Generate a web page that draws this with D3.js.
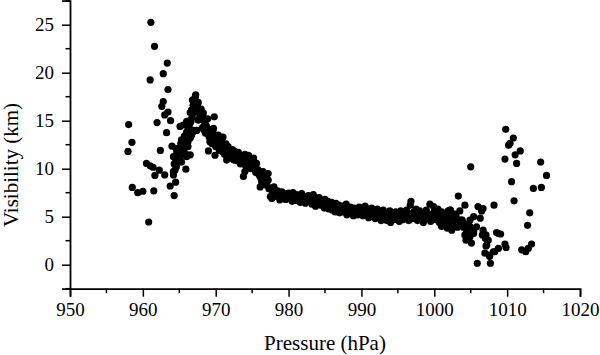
<!DOCTYPE html>
<html><head><meta charset="utf-8">
<script src="https://cdn.jsdelivr.net/npm/d3@7"></script>
<style>body{margin:0;background:#fff}svg{display:block}text{font-family:"Liberation Serif","Times New Roman",serif;fill:#000}</style>
</head><body><svg id="c" width="600" height="355"></svg>
<script>
// Early scatter (958-967 hPa)
const earlyP = [958.05,958.5,957.96,958.55,959.3,960.0,961.5,960.8,961.1,961.6,963.35,962.8,961.0,963.45,962.8,962.6,963.45,963.0,963.8,961.95,963.25,962.4,960.5,961.0,961.4,962.25,961.65,963.0,964.2,964.5,963.75,964.3,964.0,964.6,965.3,965.1,965.8,964.85,965.3,964.6,964.4,966.0,966.5,965.9,964.2,965.55,966.15,966.9,966.7,966.2,965.8,966.5,966.7,966.8,967.2,967.25,967.5,967.75,968.05,968.3,968.5,968.75,969.0,969.8,
  964.3,964.5,964.7,964.9,965.0,965.1,965.2,965.4,965.5,965.6,965.7,965.9,966.0,966.1,966.2,966.3,966.4,966.5,966.6,966.7,966.8,966.9,967.0,967.1,967.2,967.3,967.4,967.4,967.6,967.6,967.8,965.1,966.0,966.7,966.9,967.2,967.4,965.3,965.8,966.2,966.5,966.9,964.2,964.65,967.4,967.6];
const earlyV = [14.6,12.75,11.8,8.05,7.5,7.65,7.7,4.45,25.25,22.75,21.0,19.9,19.25,18.25,17.0,16.5,15.9,15.6,15.0,14.8,13.75,11.9,10.55,10.3,10.15,9.85,9.3,9.35,9.35,8.6,8.2,7.2,12.35,12.1,12.3,11.75,11.6,11.1,10.7,10.2,9.85,11.25,11.45,9.95,9.7,14.55,14.95,14.0,13.5,12.8,13.0,15.85,15.25,17.15,17.5,17.7,16.7,16.2,15.75,15.25,14.75,14.2,11.85,15.4,
  10.5,11.0,10.6,11.5,12.0,11.2,12.6,11.9,12.9,12.2,13.4,12.4,13.8,13.1,14.3,13.6,14.6,13.2,14.9,16.1,15.6,16.6,16.0,17.2,16.4,17.0,16.0,14.0,15.1,16.9,15.6,14.4,14.9,16.1,17.15,16.8,16.3,13.0,12.65,12.3,13.3,13.85,11.25,11.77,14.0,15.07];

// Main band (968-1004 hPa)
const bandP = [968.0,968.1,968.2,968.3,968.4,968.5,968.6,968.7,968.8,968.9,969.0,969.1,969.2,969.3,969.4,969.5,969.6,969.7,969.7,969.9,970.0,970.1,970.2,970.35,970.4,970.5,970.6,970.7,970.8,970.9,971.0,971.1,971.2,971.3,971.4,971.5,971.6,971.7,971.8,972.0,972.1,972.2,972.3,972.4,972.5,972.6,972.8,972.9,973.0,973.1,973.3,973.4,973.5,973.7,973.8,973.8,974.0,974.0,974.1,974.25,974.4,974.5,974.5,974.7,974.8,974.9,975.0,975.2,975.2,975.3,975.5,975.6,975.7,975.85,976.0,976.1,976.2,976.3,976.5,976.6,976.8,976.9,977.0,977.2,977.2,977.3,977.45,977.5,977.7,977.8,977.9,978.0,978.2,978.4,978.5,978.7,978.8,979.0,979.1,979.3,979.5,979.6,979.8,
  980.0,980.1,980.3,980.5,980.6,980.8,981.0,981.1,981.3,981.5,981.6,981.8,982.0,982.2,982.3,982.5,982.7,982.9,983.0,983.2,983.4,983.5,983.7,983.9,984.0,984.2,984.4,984.5,984.7,984.9,985.0,985.2,985.4,985.5,985.7,985.9,986.0,986.2,986.4,986.5,986.7,986.9,987.0,987.2,987.4,987.5,987.7,987.9,988.0,988.2,988.4,988.5,988.7,988.9,989.0,989.2,989.4,989.5,989.7,989.9,
  990.0,990.2,990.4,990.5,990.7,990.9,991.0,991.2,991.4,991.5,991.7,991.9,992.0,992.2,992.4,992.5,992.7,992.9,993.0,993.2,993.4,993.5,993.7,993.9,994.0,994.2,994.4,994.5,994.7,994.9,995.0,995.2,995.4,995.5,995.7,995.9,996.0,996.2,996.4,996.5,996.7,996.8,996.9,997.0,997.2,997.4,997.5,997.7,997.9,998.0,998.2,998.4,998.5,998.7,998.9,999.0,999.2,999.4,999.5,999.7,999.9,
  1000.0,1000.2,1000.4,1000.5,1000.7,1000.9,1001.0,1001.2,1001.4,1001.5,1001.7,1001.9,1002.0,1002.2,1002.3,1002.5,1002.7,1002.9,1003.0,1003.3,1003.5,1003.6,1003.8,1004.0,1001.0,1001.8,1002.4,1002.8,1003.2,1002.2,1002.8,1003.5,1004.0,1004.45];
const bandV = [16.2,15.2,14.3,15.8,14.0,15.0,13.7,14.5,13.7,15.2,14.1,13.3,12.8,14.0,13.5,12.6,13.9,14.2,13.0,11.4,12.3,12.7,13.3,13.5,12.4,11.9,13.2,12.5,12.8,11.8,13.3,12.2,11.5,12.1,12.6,10.9,11.7,12.3,11.3,11.95,11.5,11.1,12.0,11.6,10.9,11.8,11.3,11.4,10.8,11.7,11.1,10.5,11.3,11.0,10.7,9.2,9.7,11.5,10.3,11.25,10.6,10.2,11.4,11.1,10.0,10.5,10.9,10.7,11.1,10.0,9.6,10.55,9.9,9.85,9.3,8.1,9.0,8.65,9.7,8.8,8.3,9.2,8.6,8.8,9.5,7.9,8.0,7.1,6.9,7.6,7.45,8.1,7.2,7.1,7.7,7.3,6.75,7.5,7.6,7.0,7.25,6.8,7.4,
  7.45,6.9,7.2,6.6,7.5,7.0,6.7,7.3,6.9,7.1,6.5,7.4,6.8,7.1,6.4,6.9,7.2,6.6,6.95,6.3,7.3,6.7,6.1,6.9,6.5,7.0,6.2,6.7,6.4,5.9,6.8,6.3,6.6,5.8,6.2,6.5,5.7,6.1,5.5,6.4,5.9,6.2,5.4,5.8,6.1,5.5,5.9,6.3,5.2,5.7,5.4,6.0,5.6,5.1,5.9,5.5,5.8,5.2,6.0,5.4,
  5.7,5.1,5.6,6.1,5.3,5.8,4.9,5.5,5.9,5.2,5.6,4.8,5.4,5.8,5.0,5.5,4.6,5.2,5.7,4.9,5.4,4.6,5.1,5.6,4.4,5.0,5.3,4.7,5.5,4.9,5.2,4.5,5.6,5.0,4.7,5.4,4.9,5.7,5.1,4.6,6.2,6.6,5.3,4.8,5.5,5.0,5.8,4.6,5.3,5.6,4.9,5.4,4.4,5.1,5.7,4.8,5.3,6.3,4.5,5.0,6.05,
  5.5,4.7,5.2,5.8,4.4,5.0,5.5,4.6,5.3,4.2,5.0,5.6,4.5,5.7,4.9,4.1,5.3,4.7,5.0,7.15,5.6,4.4,4.65,3.9,4.0,3.8,3.6,4.0,3.9,5.7,5.2,4.65,4.3,3.96];

// Late scatter (1004-1016 hPa)
const lateP = [1005.0,1004.2,1006.0,1006.5,1006.7,1008.2,1006.3,1005.8,1005.4,1004.9,1004.35,1005.1,1004.7,1003.8,1006.7,1007.1,1007.4,1007.1,1006.95,1007.55,1008.3,1008.8,1005.9,1007.7,1008.55,1009.1,1009.85,1009.7,1008.8,1005.4,1004.9,1005.4,1004.7,1006.6,1007.0,1007.2,1007.6,1008.1,1009.8,1010.85,1010.4,1010.2,1011.8,1011.1,1011.3,1009.7,1010.6,1010.95,1013.1,1012.8,1013.35,1012.9,1012.0,1012.55,1013.6,1014.7,1014.6,1015.4,1004.0,1004.45,1004.2,1004.9];
const lateV = [10.2,6.2,6.05,5.6,5.85,6.2,4.85,3.95,3.45,2.9,2.55,2.25,4.25,4.65,3.6,3.1,2.55,1.95,1.2,1.0,1.35,1.7,0.15,0.15,3.35,3.2,1.8,2.15,3.25,5.0,4.65,3.25,2.75,3.1,2.75,2.05,0.85,1.35,14.1,13.2,12.65,12.45,11.85,11.45,10.55,11.0,8.65,6.65,5.4,4.1,2.15,1.7,1.55,1.35,7.95,8.05,10.7,9.3,4.3,3.45,3.1,3.96];

const xTicks = [950,960,970,980,990,1000,1010,1020];
const yTicks = [0,5,10,15,20,25];
const xLabel = "Pressure (hPa)";
const yLabel = "Visibility (km)";

const svg = d3.select("#c");
const x = d3.scaleLinear().domain([950,1020]).range([70,580]);
const y = d3.scaleLinear().domain([-2.5,27.5]).range([288.7,0.7]);

const pts = [];
[[earlyP,earlyV],[bandP,bandV],[lateP,lateV]].forEach(([P,V])=>P.forEach((p,i)=>pts.push([p,V[i]])));

svg.append("g").selectAll("circle").data(pts).join("circle")
  .attr("cx",d=>x(d[0])).attr("cy",d=>y(d[1])).attr("r",3.6).attr("fill","#000");

// minor ticks
const xMinor = d3.range(955,1020,10);
const yMinor = [-2.5,2.5,7.5,12.5,17.5,22.5,27.5];
const ax = svg.append("g").attr("transform","translate(0,288.7)");
ax.call(d3.axisBottom(x).tickValues(xTicks).tickFormat(d3.format("d")).tickSizeOuter(0).tickSize(8).tickPadding(6));
ax.selectAll("g.minor").data(xMinor).join("line").attr("x1",d=>x(d)).attr("x2",d=>x(d)).attr("y1",0).attr("y2",4.5).attr("stroke","#000").attr("stroke-width",1.5);
const ay = svg.append("g").attr("transform","translate(70,0)");
ay.call(d3.axisLeft(y).tickValues(yTicks).tickSizeOuter(0).tickSize(8).tickPadding(8));
ay.selectAll("g.minor").data(yMinor).join("line").attr("y1",d=>y(d)).attr("y2",d=>y(d)).attr("x1",0).attr("x2",-4.5).attr("stroke","#000").attr("stroke-width",1.5);
svg.selectAll(".domain").attr("stroke","#000").attr("stroke-width",1.8);
svg.selectAll(".tick line").attr("stroke","#000").attr("stroke-width",1.5);
svg.selectAll(".tick text").style("font-size","19px").style("font-family","'Liberation Serif',serif").attr("fill","#000");

svg.append("text").attr("x",325).attr("y",350).attr("text-anchor","middle").style("font-size","21px").text(xLabel);
svg.append("text").attr("transform","translate(18,165) rotate(-90)").attr("text-anchor","middle").style("font-size","21px").text(yLabel);
</script></body></html>
